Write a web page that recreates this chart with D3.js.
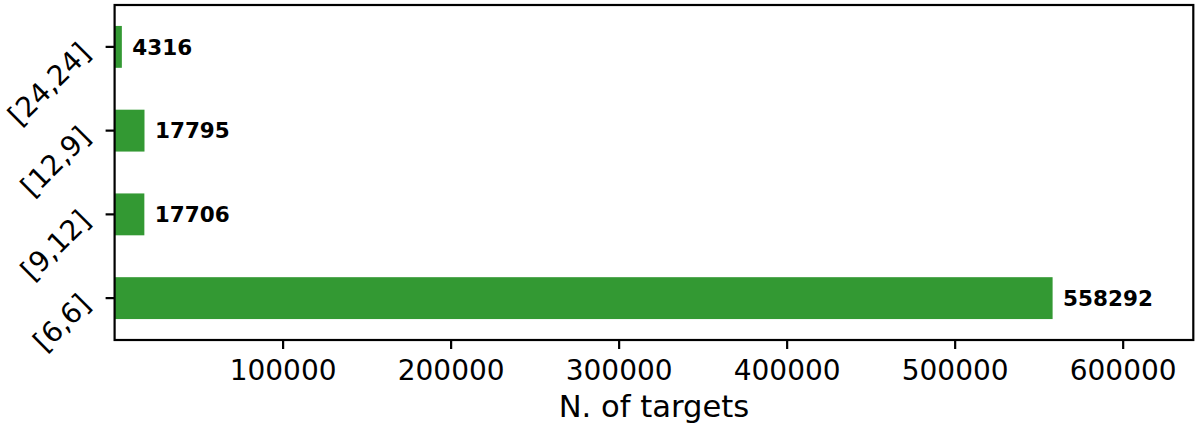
<!DOCTYPE html>
<html>
<head>
<meta charset="utf-8">
<script src="https://cdn.jsdelivr.net/npm/d3@7"></script>
<style>
  body { margin: 0; background: #fff; }
  svg { display: block; font-family: "DejaVu Sans", sans-serif; }
</style>
</head>
<body>
<svg id="chart" width="1200" height="431"></svg>
<script>
/* data, listed bottom to top as in the figure */
const categories = ["[6,6]", "[9,12]", "[12,9]", "[24,24]"];
const counts = [558292, 17706, 17795, 4316];
const xTicks = [100000, 200000, 300000, 400000, 500000, 600000];
const xLabel = "N. of targets";

const svg = d3.select("#chart");
const margin = { left: 114.6, right: 1193.3, top: 5, bottom: 340 };
const green = "#339933";

const x = d3.scaleLinear().domain([0, d3.max(counts) * 1.15]).range([margin.left, margin.right]);
const y = d3.scaleBand().domain(categories.slice().reverse()).range([margin.top, margin.bottom])
  .paddingInner(0.5).paddingOuter(0.25);

const rows = categories.map((c, i) => ({ cat: c, n: counts[i] }));

/* bars */
svg.append("g").selectAll("rect").data(rows).join("rect")
  .attr("x", x(0))
  .attr("y", d => y(d.cat))
  .attr("width", d => x(d.n) - x(0))
  .attr("height", y.bandwidth())
  .attr("fill", green);

/* value labels */
svg.append("g").selectAll("text").data(rows).join("text")
  .attr("x", d => x(d.n) + 10.5)
  .attr("y", d => y(d.cat) + y.bandwidth() / 2 + 7.8)
  .attr("font-size", 21.5).attr("font-weight", "bold").attr("fill", "#000")
  .text(d => d.n);

/* x axis */
const xAxis = svg.append("g").attr("transform", `translate(0,${margin.bottom})`)
  .call(d3.axisBottom(x).tickValues(xTicks).tickFormat(d3.format("d")).tickSize(9).tickPadding(0));
xAxis.select(".domain").remove();
xAxis.selectAll(".tick line").attr("stroke", "#000").attr("stroke-width", 2.2);
xAxis.selectAll(".tick text").attr("y", 40).attr("dy", null)
  .attr("font-size", 28).attr("font-family", "DejaVu Sans").attr("fill", "#000");

/* y axis ticks */
const yAxis = svg.append("g").attr("transform", `translate(${margin.left},0)`)
  .call(d3.axisLeft(y).tickSize(9).tickFormat(""));
yAxis.select(".domain").remove();
yAxis.selectAll(".tick line").attr("stroke", "#000").attr("stroke-width", 2.2);

/* rotated y tick labels */
svg.append("g").selectAll("text").data(categories).join("text")
  .attr("transform", d => `translate(92,${y(d) + y.bandwidth() / 2 + 8}) rotate(-45)`)
  .attr("text-anchor", "end")
  .attr("font-size", 28).attr("fill", "#000")
  .text(d => d);

/* frame */
svg.append("rect")
  .attr("x", margin.left).attr("y", margin.top)
  .attr("width", margin.right - margin.left).attr("height", margin.bottom - margin.top)
  .attr("fill", "none").attr("stroke", "#000").attr("stroke-width", 2.2);

/* axis title */
svg.append("text")
  .attr("x", (margin.left + margin.right) / 2).attr("y", 417.3)
  .attr("text-anchor", "middle").attr("font-size", 30.6).attr("fill", "#000")
  .text(xLabel);
</script>
</body>
</html>
